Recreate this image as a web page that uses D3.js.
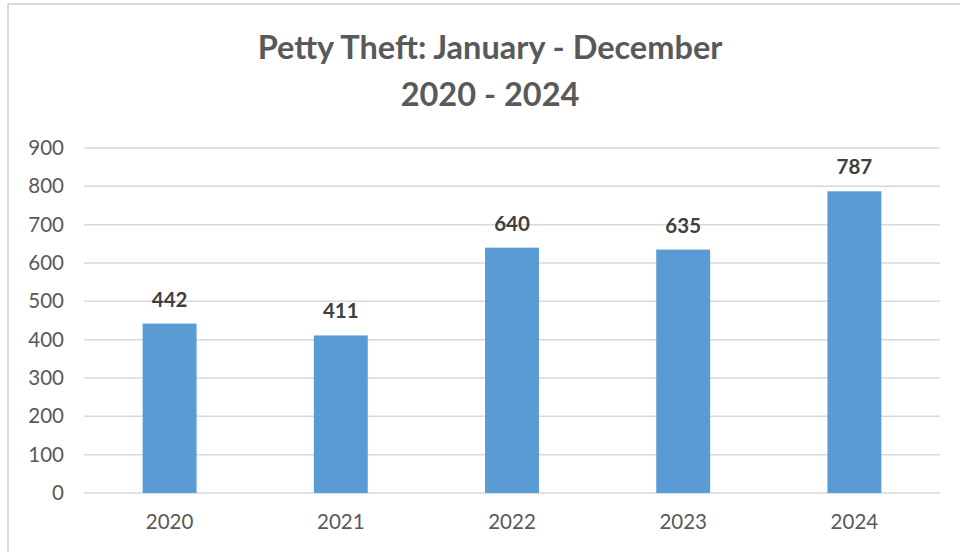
<!DOCTYPE html>
<html>
<head>
<meta charset="utf-8">
<script src="https://cdn.jsdelivr.net/npm/d3@7"></script>
<style>
  html, body { margin: 0; padding: 0; background: #ffffff; }
  svg { display: block; }
</style>
</head>
<body>
<svg id="chart" width="960" height="552"></svg>
<script>
const categories = ["2020", "2021", "2022", "2023", "2024"];
const values = [442, 411, 640, 635, 787];
const yTicks = [0, 100, 200, 300, 400, 500, 600, 700, 800, 900];
const titleLines = ["Petty Theft: January - December", "2020 - 2024"];

const W = 960, H = 552;
const margin = { left: 84, right: 20, top: 148, bottom: 59 };
const svg = d3.select("#chart");
const FONT = "Lato, 'Open Sans', sans-serif";

// frame
svg.append("line").attr("x1", 8).attr("x2", W).attr("y1", 4).attr("y2", 4)
  .attr("stroke", "#d9d9d9").attr("stroke-width", 2);
svg.append("line").attr("x1", 8).attr("x2", 8).attr("y1", 4).attr("y2", H)
  .attr("stroke", "#d9d9d9").attr("stroke-width", 2);

const x = d3.scaleBand().domain(categories).range([margin.left, W - margin.right])
  .paddingInner(0.685).paddingOuter(0.3425);
const y = d3.scaleLinear().domain([0, 900]).range([H - margin.bottom, margin.top]);

// gridlines
svg.append("g").selectAll("line").data(yTicks).join("line")
  .attr("x1", margin.left).attr("x2", W - margin.right)
  .attr("y1", d => y(d)).attr("y2", d => y(d))
  .attr("stroke", "#d9d9d9").attr("stroke-width", 1.5);

// y axis labels
const yAxis = d3.axisLeft(y).tickValues(yTicks).tickSize(0).tickPadding(20);
const gy = svg.append("g").attr("transform", `translate(${margin.left},0)`).call(yAxis);
gy.select(".domain").remove();
gy.selectAll("text").attr("font-family", FONT).attr("font-size", 20.5).attr("fill", "#595959");

// x axis labels
const xAxis = d3.axisBottom(x).tickSize(0).tickPadding(21);
const gx = svg.append("g").attr("transform", `translate(0,${y(0)})`).call(xAxis);
gx.select(".domain").remove();
gx.selectAll("text").attr("font-family", FONT).attr("font-size", 20.5).attr("fill", "#595959");

// bars
svg.append("g").selectAll("rect").data(values).join("rect")
  .attr("x", (d, i) => x(categories[i]))
  .attr("width", x.bandwidth())
  .attr("y", d => y(d))
  .attr("height", d => y(0) - y(d))
  .attr("fill", "#5b9bd5");

// value labels
svg.append("g").selectAll("text").data(values).join("text")
  .attr("x", (d, i) => x(categories[i]) + x.bandwidth() / 2)
  .attr("y", d => y(d) - 17)
  .attr("text-anchor", "middle")
  .attr("font-family", FONT).attr("font-weight", "bold").attr("font-size", 20.5)
  .attr("fill", "#404040")
  .text(d => d);

// title
svg.append("g").selectAll("text").data(titleLines).join("text")
  .attr("x", 490)
  .attr("y", (d, i) => 59 + i * 47)
  .attr("text-anchor", "middle")
  .attr("font-family", FONT).attr("font-weight", "bold").attr("font-size", 32.5)
  .attr("fill", "#595959")
  .text(d => d);
</script>
</body>
</html>
